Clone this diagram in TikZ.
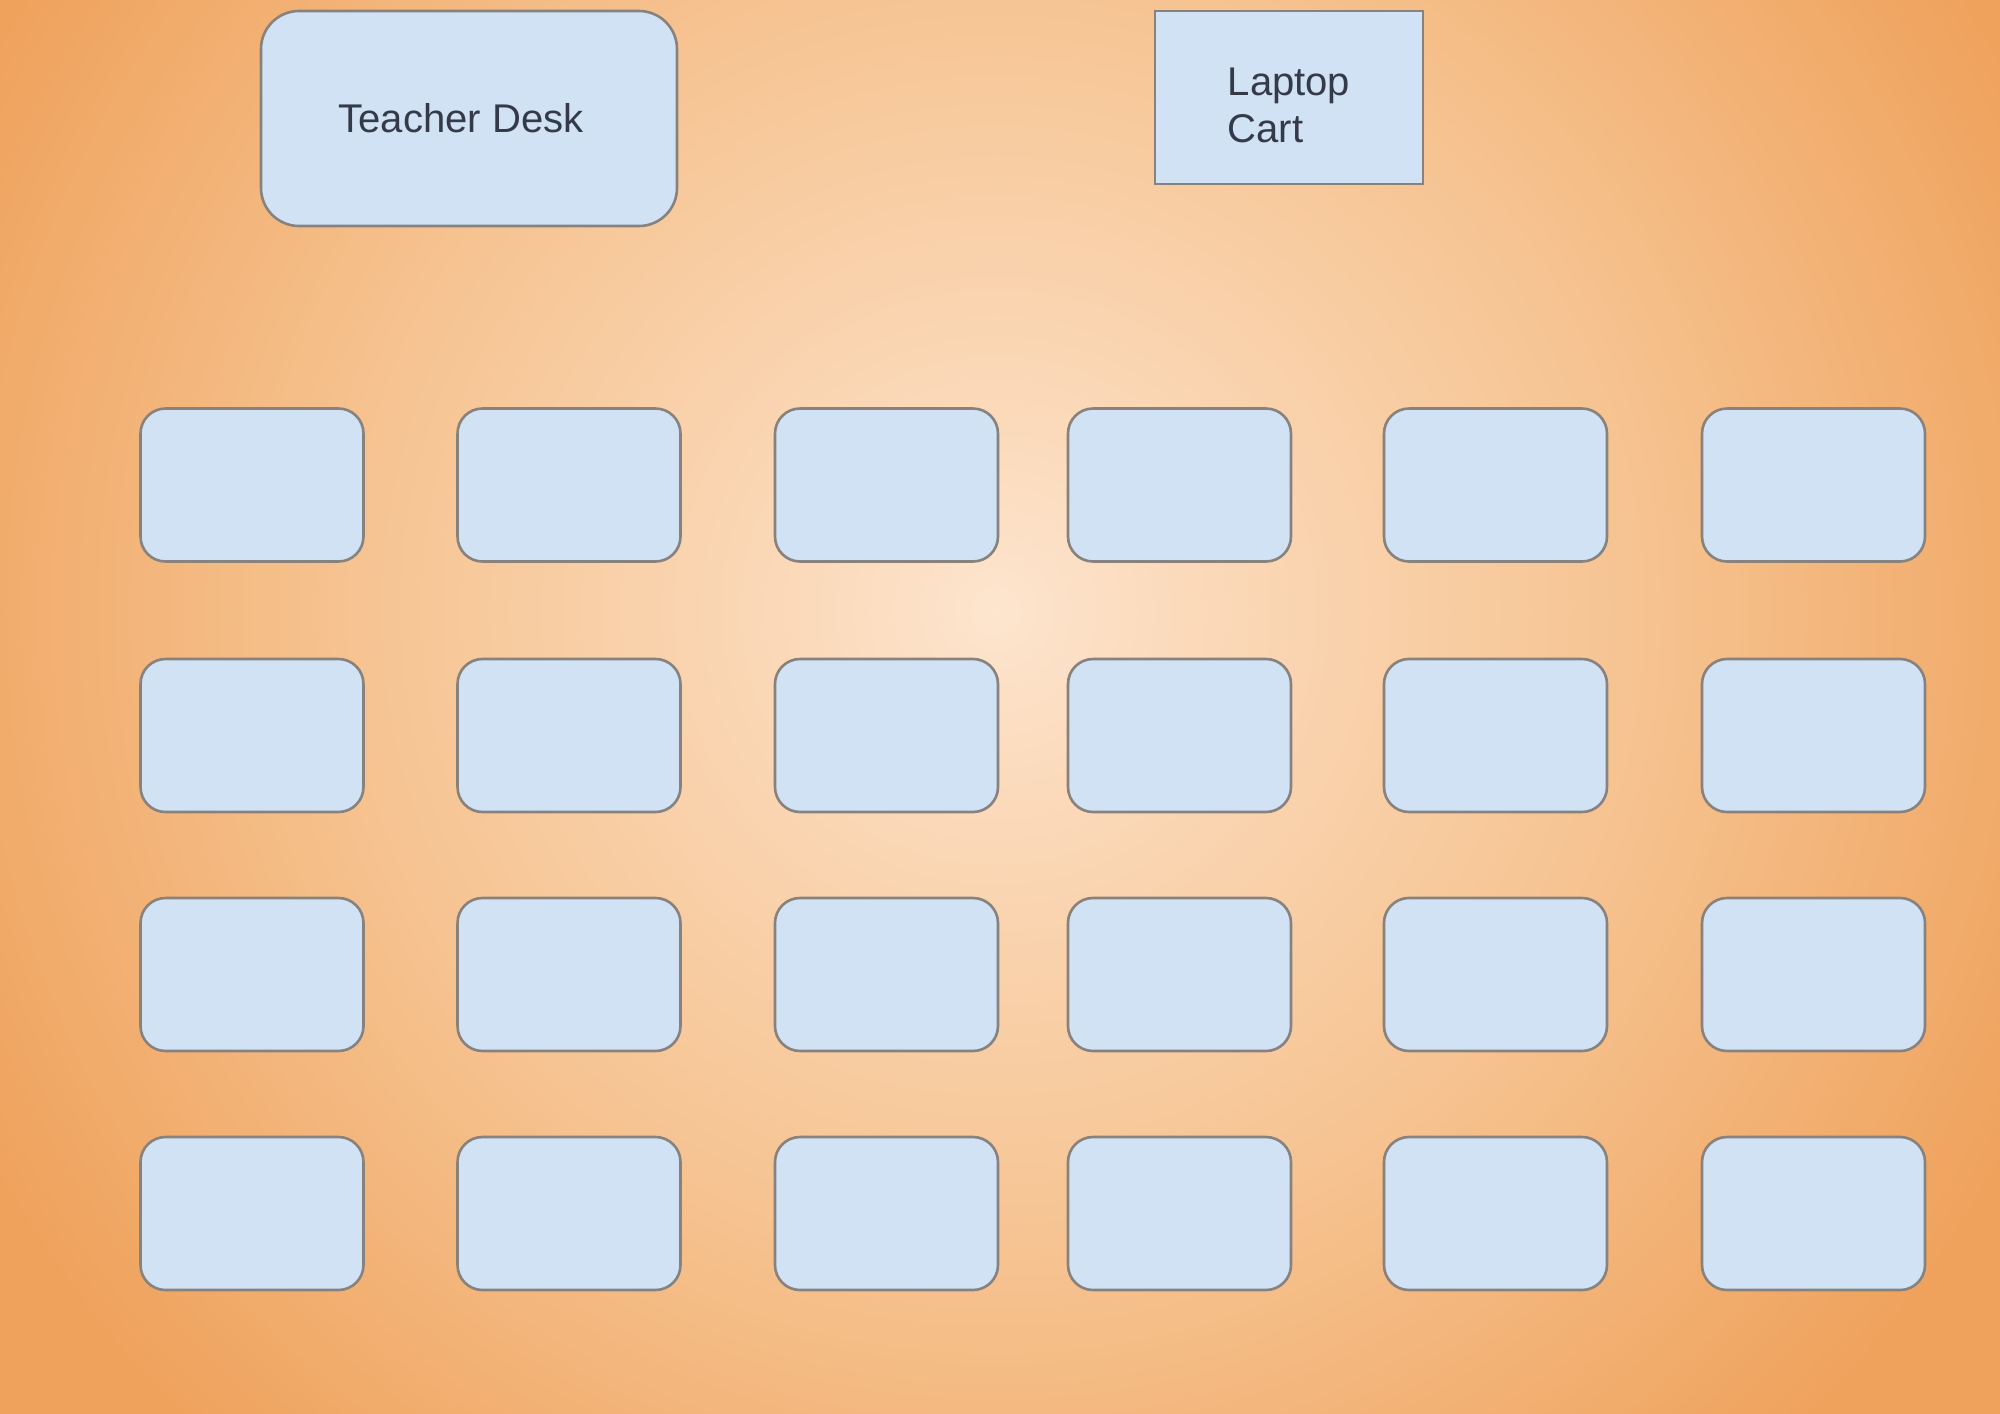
\documentclass[tikz,border=0pt]{standalone}
\usepackage{fontspec}
\setmainfont{Liberation Sans}
\definecolor{bgA}{HTML}{FDE5CE}
\definecolor{bgB}{HTML}{FBDABB}
\definecolor{bgC}{HTML}{F6C391}
\definecolor{bgD}{HTML}{EFA25C}
\definecolor{deskfill}{HTML}{D0E2F4}
\definecolor{deskline}{HTML}{88827E}
\definecolor{txt}{HTML}{343A48}
\pgfdeclareradialshading{bgshade}{\pgfpoint{0bp}{0bp}}{color(0bp)=(bgA); color(4bp)=(bgB); color(14bp)=(bgC); color(25bp)=(bgD); color(50bp)=(bgD)}
\tikzset{
  desk/.style={draw=deskline, line width=0.13cm, fill=deskfill, inner sep=0pt, outer sep=0pt},
  studentdesk/.style={desk, rounded corners=1.25cm, minimum width=11.15cm, minimum height=7.65cm},
  label/.style={text=txt, font=\fontsize{57}{68}\selectfont}
}
\begin{document}
\begin{tikzpicture}[x=0.05cm, y=-0.05cm]
  \useasboundingbox (0,0) rectangle (2000,1414);
  \fill[bgD] (0,0) rectangle (2000,1414);
  \begin{scope}
    \clip (0,0) rectangle (2000,1414);
    \path[shading=bgshade] (995,610) circle (1150);
  \end{scope}
  \node[desk, rounded corners=1.9cm, minimum width=20.8cm, minimum height=10.75cm, label] (td) at (469,118.5) {Teacher Desk\hspace*{0.8cm}};
  \node[desk, minimum width=13.4cm, minimum height=8.65cm, label, text depth=0pt] (lc) at (1289,97.5) {\raisebox{0.93cm}{\begin{tabular}{@{}l@{}}Laptop\\[-0.05cm]Cart\end{tabular}}};
  \foreach \cx [count=\c] in {252,569,886.5,1179.5,1495.5,1813.5} {
    \foreach \cy [count=\r] in {485,735.5,974.5,1213.5} {
      \node[studentdesk] (d-\r-\c) at (\cx,\cy) {};
    }
  }
\end{tikzpicture}
\end{document}
